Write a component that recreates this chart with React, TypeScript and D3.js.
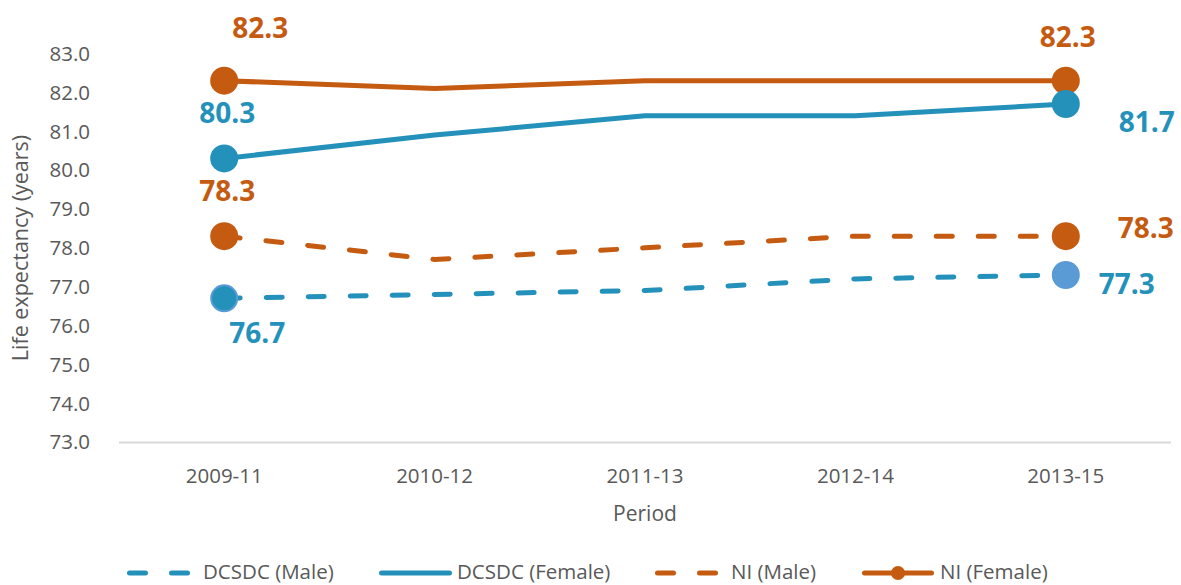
import React from "react";
import * as d3 from "d3";

const periods = ["2009-11", "2010-12", "2011-13", "2012-14", "2013-15"];
const dcsdcMale = [76.7, 76.8, 76.9, 77.2, 77.3];
const dcsdcFemale = [80.3, 80.9, 81.4, 81.4, 81.7];
const niMale = [78.3, 77.7, 78.0, 78.3, 78.3];
const niFemale = [82.3, 82.1, 82.3, 82.3, 82.3];
const yTicks = [73, 74, 75, 76, 77, 78, 79, 80, 81, 82, 83];

const BLUE = "#2491BB";
const LIGHTBLUE = "#5B9BD5";
const ORANGE = "#C55A11";
const FONT = "'Open Sans', sans-serif";

export default function App() {
  const W = 1181, H = 585;
  const x = d3.scaleBand<string>().domain(periods).range([119, 1171]);
  const cx = (p: string) => (x(p) as number) + x.bandwidth() / 2;
  const y = d3.scaleLinear().domain([73, 83]).range([442.1, 53.5]);
  const line = d3.line<number>().x((_, i) => cx(periods[i])).y((d) => y(d));

  const series = [
    { name: "DCSDC (Male)", data: dcsdcMale, color: BLUE, dash: true },
    { name: "DCSDC (Female)", data: dcsdcFemale, color: BLUE, dash: false },
    { name: "NI (Male)", data: niMale, color: ORANGE, dash: true },
    { name: "NI (Female)", data: niFemale, color: ORANGE, dash: false },
  ];

  const first = 0, last = periods.length - 1;
  const labels = [
    { v: niFemale[first], i: first, dx: 36, dy: -43, c: ORANGE },
    { v: dcsdcFemale[first], i: first, dx: 3, dy: -35, c: BLUE },
    { v: niMale[first], i: first, dx: 3, dy: -35, c: ORANGE },
    { v: dcsdcMale[first], i: first, dx: 33, dy: 45, c: BLUE },
    { v: niFemale[last], i: last, dx: 2, dy: -34, c: ORANGE },
    { v: dcsdcFemale[last], i: last, dx: 81, dy: 28, c: BLUE },
    { v: niMale[last], i: last, dx: 80, dy: 2, c: ORANGE },
    { v: dcsdcMale[last], i: last, dx: 61, dy: 19, c: BLUE },
  ];

  const legendItems = [
    { name: "DCSDC (Male)", color: BLUE, dash: true, x0: 127, x1: 190, tx: 203, marker: false },
    { name: "DCSDC (Female)", color: BLUE, dash: false, x0: 379, x1: 452, tx: 457, marker: false },
    { name: "NI (Male)", color: ORANGE, dash: true, x0: 655, x1: 721, tx: 731, marker: false },
    { name: "NI (Female)", color: ORANGE, dash: false, x0: 862, x1: 934, tx: 940, marker: true },
  ];
  const LY = 572;

  return (
    <div style={{ position: "absolute", left: 0, top: 0 }}>
      <svg width={W} height={H} style={{ display: "block", background: "#fff" }} fontFamily={FONT}>
        {/* y tick labels */}
        {yTicks.map((t) => (
          <text key={t} x={90} y={y(t)} dy="0.36em" textAnchor="end" fontSize={20.5} fill="#595959">
            {t.toFixed(1)}
          </text>
        ))}
        {/* axis line */}
        <line x1={119} x2={1171} y1={y(73) + 0.4} y2={y(73) + 0.4} stroke="#d9d9d9" strokeWidth={2} />
        {/* x tick labels */}
        {periods.map((p) => (
          <text key={p} x={cx(p)} y={476} dy="0.36em" textAnchor="middle" fontSize={20.5} fill="#595959">
            {p}
          </text>
        ))}
        <text x={645} y={513} dy="0.36em" textAnchor="middle" fontSize={21} fill="#595959">Period</text>
        <text transform="translate(20,248) rotate(-90)" dy="0.36em" textAnchor="middle" fontSize={21.5} fill="#595959">
          Life expectancy (years)
        </text>

        {/* lines */}
        {series.map((s) => (
          <path
            key={s.name}
            d={line(s.data) as string}
            fill="none"
            stroke={s.color}
            strokeWidth={5}
            strokeLinecap="round"
            strokeLinejoin="round"
            strokeDasharray={s.dash ? "16 26" : undefined}
          />
        ))}

        {/* end markers */}
        <circle cx={cx(periods[first])} cy={y(niFemale[first])} r={14} fill={ORANGE} />
        <circle cx={cx(periods[last])} cy={y(niFemale[last])} r={14} fill={ORANGE} />
        <circle cx={cx(periods[first])} cy={y(dcsdcFemale[first])} r={14} fill={BLUE} />
        <circle cx={cx(periods[last])} cy={y(dcsdcFemale[last])} r={14} fill={BLUE} />
        <circle cx={cx(periods[first])} cy={y(niMale[first])} r={14} fill={ORANGE} />
        <circle cx={cx(periods[last])} cy={y(niMale[last])} r={14} fill={ORANGE} />
        <circle cx={cx(periods[first])} cy={y(dcsdcMale[first])} r={13} fill={BLUE} stroke={LIGHTBLUE} strokeWidth={2} />
        <circle cx={cx(periods[last])} cy={y(dcsdcMale[last])} r={14} fill={LIGHTBLUE} />

        {/* data labels */}
        {labels.map((l, k) => (
          <text
            key={k}
            x={cx(periods[l.i]) + l.dx}
            y={y(l.v) + l.dy}
            textAnchor="middle"
            fontSize={28}
            fontWeight="bold"
            fill={l.c}
          >
            {l.v.toFixed(1)}
          </text>
        ))}

        {/* legend */}
        {legendItems.map((it) => (
          <g key={it.name}>
            <line
              x1={it.x0 + 2.5}
              x2={it.x1 - 2.5}
              y1={LY + 1}
              y2={LY + 1}
              stroke={it.color}
              strokeWidth={5}
              strokeLinecap="round"
              strokeDasharray={it.dash ? "16 26" : undefined}
            />
            {it.marker && <circle cx={(it.x0 + it.x1) / 2} cy={LY + 1} r={7} fill={it.color} />}
            <text x={it.tx} y={LY} dy="0.36em" fontSize={20.5} fill="#595959">{it.name}</text>
          </g>
        ))}
      </svg>
    </div>
  );
}
